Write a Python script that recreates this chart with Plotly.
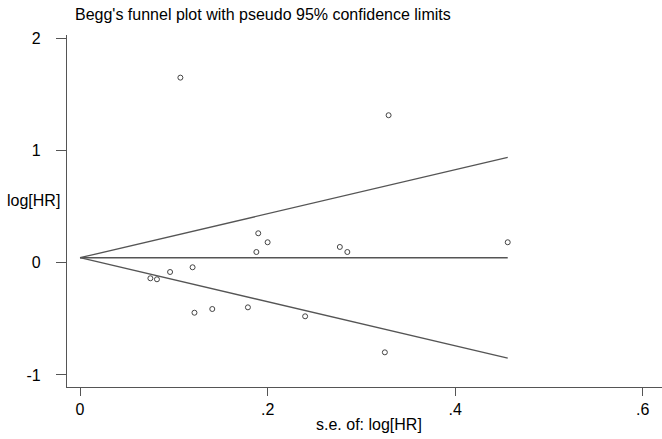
import plotly.graph_objects as go

# Study points
se_vals = [0.107, 0.329, 0.190, 0.200, 0.188, 0.277, 0.285, 0.456,
           0.120, 0.096, 0.075, 0.082, 0.122, 0.141, 0.179, 0.240, 0.325]
loghr_vals = [1.65, 1.315, 0.263, 0.183, 0.096, 0.141, 0.096, 0.183,
              -0.040, -0.082, -0.138, -0.147, -0.445, -0.412, -0.397, -0.477, -0.798]

# Pseudo 95% confidence limit lines
line_se = [0.0, 0.456]
line_center = [0.045, 0.045]
line_upper = [0.045, 0.939]
line_lower = [0.045, -0.849]

x_ticks = [0, 0.2, 0.4, 0.6]
x_ticklabels = ["0", ".2", ".4", ".6"]
y_ticks = [-1, 0, 1, 2]
y_ticklabels = ["-1", "0", "1", "2"]

line_color = "#555555"
font_family = "Liberation Sans, Arial, sans-serif"

fig = go.Figure()
for ys in (line_upper, line_center, line_lower):
    fig.add_trace(go.Scatter(x=line_se, y=ys, mode="lines",
                             line=dict(color=line_color, width=1.3),
                             hoverinfo="skip", showlegend=False))

fig.add_trace(go.Scatter(x=se_vals, y=loghr_vals, mode="markers",
                         marker=dict(symbol="circle-open", size=5,
                                     color="#444444", line=dict(width=1)),
                         showlegend=False))

fig.update_layout(
    width=662, height=439,
    margin=dict(l=67, r=0, t=35, b=52),
    paper_bgcolor="white", plot_bgcolor="white",
    font=dict(family=font_family, size=16, color="black"),
    showlegend=False,
    xaxis=dict(range=[-0.0139, 0.6205], tickvals=x_ticks, ticktext=x_ticklabels,
               ticks="outside", ticklen=8, tickcolor=line_color, tickwidth=1,
               showline=True, linecolor=line_color, linewidth=1.3,
               showgrid=False, zeroline=False,
               tickfont=dict(size=16)),
    yaxis=dict(range=[-1.107, 2.030], tickvals=y_ticks, ticktext=y_ticklabels,
               ticks="outside", ticklen=10, tickcolor=line_color, tickwidth=1,
               showline=True, linecolor=line_color, linewidth=1.3,
               showgrid=False, zeroline=False, ticklabelstandoff=12,
               tickfont=dict(size=16)),
    annotations=[
        dict(text="Begg's funnel plot with pseudo 95% confidence limits",
             xref="paper", yref="paper", x=0.01, y=1.0, yshift=21,
             xanchor="left", yanchor="middle", showarrow=False,
             font=dict(size=16, color="black")),
        dict(text="log[HR]", xref="paper", yref="paper", x=0, xshift=-34,
             y=(387 - 200) / (387 - 35), xanchor="center", yanchor="middle",
             showarrow=False, font=dict(size=16, color="black")),
        dict(text="s.e. of: log[HR]", xref="paper", yref="paper",
             x=(369 - 67) / (662 - 67), y=0, yshift=-37,
             xanchor="center", yanchor="middle", showarrow=False,
             font=dict(size=16, color="black")),
    ],
)

fig.write_html("out.html",
               config={"displayModeBar": False},
               post_script="document.body.style.margin='0px';"
                           "document.body.style.padding='0px';")
